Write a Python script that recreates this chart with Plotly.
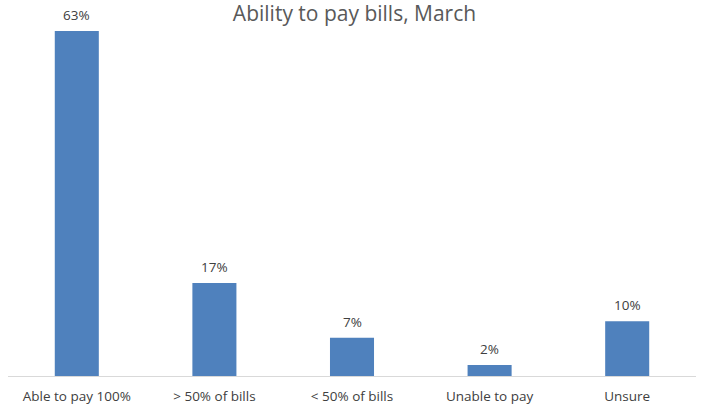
import plotly.graph_objects as go

categories = ["Able to pay 100%", "> 50% of bills", "< 50% of bills", "Unable to pay", "Unsure"]
shares = [63, 17, 7, 2, 10]
labels = [f"{v}%" for v in shares]

FONT = "Open Sans"
TEXT_GRAY = "#404040"

fig = go.Figure(
    go.Bar(
        x=categories,
        y=shares,
        marker=dict(color="#4f81bd", line=dict(width=0)),
        hoverinfo="x+y",
    )
)

# Value labels sitting above each bar
for cat, val, lab in zip(categories, shares, labels):
    fig.add_annotation(
        x=cat,
        y=val,
        text=lab,
        showarrow=False,
        yanchor="middle",
        yshift=16,
        font=dict(family=FONT, size=13.5, color=TEXT_GRAY),
    )

fig.update_layout(
    width=702,
    height=408,
    margin=dict(l=8, r=6, t=0, b=32),
    paper_bgcolor="white",
    plot_bgcolor="white",
    bargap=0.68,
    showlegend=False,
    title=dict(
        text="Ability to pay bills, March",
        x=0.505,
        xanchor="center",
        y=0.985,
        yanchor="top",
        pad=dict(t=0),
        font=dict(family=FONT, size=21, color="#595959"),
    ),
    xaxis=dict(
        showline=True,
        linecolor="#d9d9d9",
        linewidth=1,
        showgrid=False,
        ticks="",
        ticklabelstandoff=8,
        tickfont=dict(family=FONT, size=13.5, color=TEXT_GRAY),
    ),
    yaxis=dict(
        range=[0, 68.66],
        visible=False,
        showgrid=False,
        zeroline=False,
    ),
)

fig.write_html("out.html")
